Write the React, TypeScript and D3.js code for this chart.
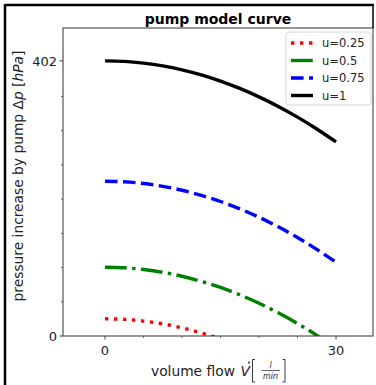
import React from 'react';
import * as d3 from 'd3';

// ---- data ----
const flowValues = [0, 2.5, 5, 7.5, 10, 12.5, 15, 17.5, 20, 22.5, 25, 27.5, 30];
const pressureU025 = [25.1, 24.3, 21.8, 17.7, 11.9, 4.5, -4.5, -15.2, -27.5, -41.5, -57.1, -74.4, -93.3];
const pressureU05 = [100.5, 99.7, 97.2, 93.1, 87.3, 79.9, 70.9, 60.2, 47.9, 33.9, 18.3, 1.0, -17.9];
const pressureU075 = [226.1, 225.3, 222.8, 218.7, 212.9, 205.5, 196.5, 185.8, 173.5, 159.5, 143.9, 126.6, 107.7];
const pressureU1 = [402, 401.2, 398.7, 394.6, 388.8, 381.4, 372.4, 361.7, 349.4, 335.4, 319.8, 302.5, 283.6];
const seriesLabels = ['u=0.25', 'u=0.5', 'u=0.75', 'u=1'];
const xMajorTicks = [0, 30];
const xMinorTicks = [5, 10, 15, 20, 25];
const yMajorTicks = [0, 402];
const yMinorTicks = [50, 100, 150, 200, 250, 300, 350];
const xDomain = [-5.45, 34.8];
const yDomain = [0, 450];

// ---- styles ----
const LW = 3.4;
const seriesColors = ['#ff0000', '#008000', '#0000ff', '#000000'];
const seriesDash = [
  `${LW} ${1.65 * LW}`,
  `${6.4 * LW} ${1.6 * LW} ${LW} ${1.6 * LW}`,
  `${3.7 * LW} ${1.6 * LW}`,
  'none',
];
const FONT = "'DejaVu Sans', sans-serif";

export default function App() {
  const W = 376, H = 385;
  const left = 63, right = 373, top = 28, bottom = 336;
  const x = d3.scaleLinear().domain(xDomain).range([left, right]);
  const y = d3.scaleLinear().domain(yDomain).range([bottom, top]);
  const allSeries = [pressureU025, pressureU05, pressureU075, pressureU1];
  const line = d3
    .line<[number, number]>()
    .x((d) => x(d[0]))
    .y((d) => y(d[1]))
    .curve(d3.curveMonotoneX);

  const spine = '#444';
  const legX = 286, legY = 32, legW = 85, legH = 73;
  const rowY = (i: number) => 43 + i * 17.5;

  return (
    <svg
      width={W}
      height={H}
      style={{ position: 'absolute', left: 0, top: 0, background: '#fff' }}
      fontFamily={FONT}
    >
      <rect x={0} y={0} width={W} height={H} fill="#fff" />
      <defs>
        <clipPath id="plotclip">
          <rect x={left} y={top} width={right - left} height={bottom - top} />
        </clipPath>
      </defs>

      {/* figure frame */}
      <line x1={5} y1={5} x2={374} y2={5} stroke="#000" strokeWidth={2.5} />
      <line x1={5} y1={4} x2={5} y2={H} stroke="#000" strokeWidth={2.5} />

      {/* title */}
      <text x={(left + right) / 2} y={23.5} textAnchor="middle" fontSize={14} fontWeight="bold">
        pump model curve
      </text>

      {/* lines */}
      <g clipPath="url(#plotclip)">
        {allSeries.map((vals, i) => (
          <path
            key={i}
            d={line(flowValues.map((q, j) => [q, vals[j]] as [number, number])) || ''}
            fill="none"
            stroke={seriesColors[i]}
            strokeWidth={LW}
            strokeDasharray={seriesDash[i]}
          />
        ))}
      </g>

      {/* spines */}
      <rect x={left} y={top} width={right - left} height={bottom - top} fill="none" stroke={spine} strokeWidth={1.1} />
      <line x1={right} y1={5} x2={right} y2={top} stroke="#000" strokeWidth={1.5} />

      {/* y ticks */}
      {yMajorTicks.map((t) => (
        <g key={'ym' + t}>
          <line x1={left - 3.5} x2={left} y1={y(t)} y2={y(t)} stroke={spine} strokeWidth={1} />
          <text x={left - 6} y={y(t) + 5} textAnchor="end" fontSize={13} fill="#222">
            {t}
          </text>
        </g>
      ))}
      {yMinorTicks.map((t) => (
        <line key={'yn' + t} x1={left - 2} x2={left} y1={y(t)} y2={y(t)} stroke={spine} strokeWidth={0.8} />
      ))}

      {/* x ticks */}
      {xMajorTicks.map((t) => (
        <g key={'xm' + t}>
          <line x1={x(t)} x2={x(t)} y1={bottom} y2={bottom + 3.5} stroke={spine} strokeWidth={1} />
          <text x={x(t)} y={bottom + 19} textAnchor="middle" fontSize={13} fill="#222">
            {t}
          </text>
        </g>
      ))}
      {xMinorTicks.map((t) => (
        <line key={'xn' + t} x1={x(t)} x2={x(t)} y1={bottom} y2={bottom + 2} stroke={spine} strokeWidth={0.8} />
      ))}

      {/* x label */}
      <g fill="#222">
        <text x={151} y={376} fontSize={13.8}>volume flow</text>
        <text x={240.5} y={376} fontSize={13.8} fontStyle="italic">V</text>
        <circle cx={249} cy={362.5} r={0.95} fill="#222" />
        <path d="M255,359.5 L252.5,359.5 L252.5,382 L255,382" fill="none" stroke="#222" strokeWidth={0.9} />
        <text x={270.5} y={367.5} fontSize={8} fontStyle="italic" textAnchor="middle">l</text>
        <line x1={261.5} x2={280} y1={370.5} y2={370.5} stroke="#222" strokeWidth={0.7} />
        <text x={270.5} y={379} fontSize={8} fontStyle="italic" textAnchor="middle">min</text>
        <path d="M282.5,359.5 L285,359.5 L285,382 L282.5,382" fill="none" stroke="#222" strokeWidth={0.9} />
      </g>

      {/* y label */}
      <text
        transform={`translate(22.5,176) rotate(-90)`}
        textAnchor="middle"
        fontSize={13.8}
        fill="#222"
      >
        pressure increase by pump Δ<tspan fontStyle="italic">p</tspan> [<tspan fontStyle="italic">hPa</tspan>]
      </text>

      {/* legend */}
      <rect x={legX} y={legY} width={legW} height={legH} rx={3} fill="#fff" fillOpacity={0.8} stroke="#d5d5d5" strokeWidth={1} />
      {seriesLabels.map((lab, i) => (
        <g key={lab}>
          <line
            x1={291}
            x2={313}
            y1={rowY(i)}
            y2={rowY(i)}
            stroke={seriesColors[i]}
            strokeWidth={LW}
            strokeDasharray={seriesDash[i]}
          />
          <text x={322} y={rowY(i) + 4} fontSize={11.5} fill="#222">
            {lab}
          </text>
        </g>
      ))}
    </svg>
  );
}
